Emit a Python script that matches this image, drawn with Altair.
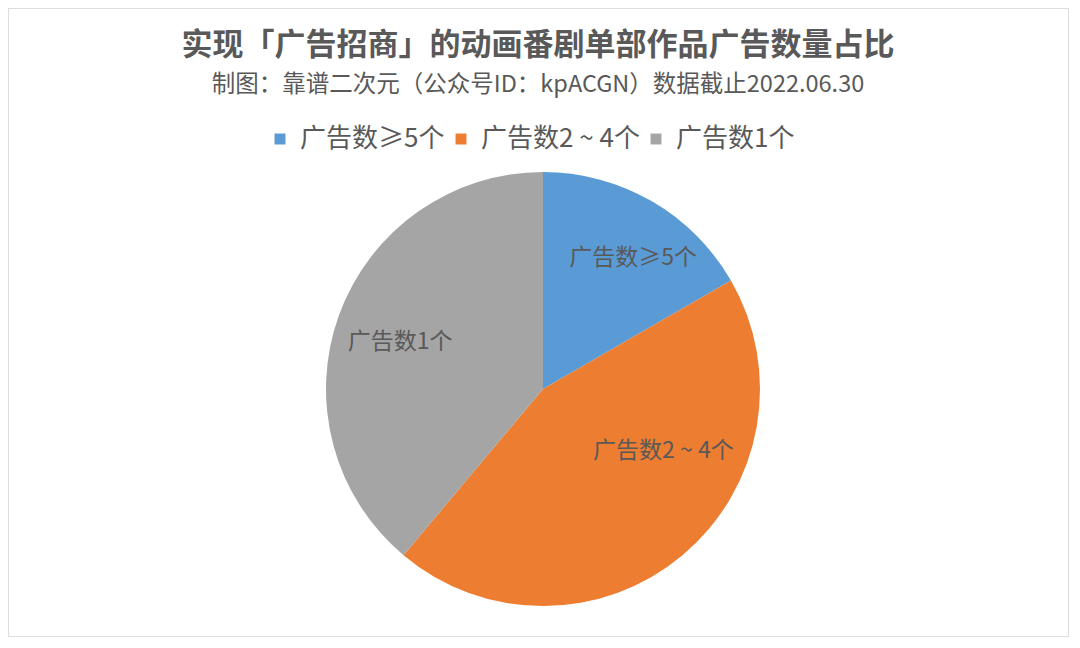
import altair as alt
import pandas as pd

legend_labels = ["广告数≥5个", "广告数2 ~ 4个", "广告数1个"]
counts = [3, 8, 7]
order_idx = [0, 1, 2]
colors = ["#5B9BD5", "#ED7D31", "#A5A5A5"]

title_text = "实现「广告招商」的动画番剧单部作品广告数量占比"
subtitle_text = "制图：靠谱二次元（公众号ID：kpACGN）数据截止2022.06.30"

FONT = "Noto Sans CJK SC"
TXT = "#595959"
CX, CY, R = 535, 381, 217

df = pd.DataFrame({"cat": legend_labels, "n": counts, "idx": order_idx})

color_enc = alt.Color(
    "cat:N",
    scale=alt.Scale(domain=legend_labels, range=colors),
    legend=alt.Legend(
        title=None,
        orient="none",
        legendX=259,
        legendY=118,
        direction="horizontal",
        symbolType="square",
        symbolSize=120,
        symbolStrokeWidth=0,
        labelFont=FONT,
        labelFontSize=26,
        labelColor=TXT,
        labelOffset=7,
        columnPadding=3,
        labelLimit=400,
    ),
)

base = alt.Chart(df)

pie = base.mark_arc(outerRadius=R, stroke=None).encode(
    theta=alt.Theta("n:Q", stack=True),
    order=alt.Order("idx:Q"),
    color=color_enc,
    x=alt.value(CX),
    y=alt.value(CY),
)

label_params = [
    (legend_labels[0], 160, 10, 8),
    (legend_labels[1], 122, 42, -31),
    (legend_labels[2], 151, -1, 5),
]

label_layers = []
for cat, rad, dx, dy in label_params:
    label_layers.append(
        base.mark_text(
            radius=rad, dx=dx, dy=dy, font=FONT, fontSize=23, color=TXT,
            align="center", baseline="middle",
        ).encode(
            theta=alt.Theta("n:Q", stack=True),
            order=alt.Order("idx:Q"),
            text=alt.Text("cat:N"),
            x=alt.value(CX),
            y=alt.value(CY),
            opacity=alt.condition(alt.datum.cat == cat, alt.value(1), alt.value(0)),
        )
    )

title_df = pd.DataFrame({"t": [title_text]})
sub_df = pd.DataFrame({"t": [subtitle_text]})

title = alt.Chart(title_df).mark_text(
    font=FONT, fontSize=31, fontWeight="bold", color=TXT, align="center", baseline="middle"
).encode(text="t:N", x=alt.value(530), y=alt.value(38))

subtitle = alt.Chart(sub_df).mark_text(
    font=FONT, fontSize=23.5, color=TXT, align="center", baseline="middle"
).encode(text="t:N", x=alt.value(530), y=alt.value(77))

chart = alt.layer(pie, *label_layers, title, subtitle).properties(
    width=1061,
    height=629,
    padding=0,
    autosize=alt.AutoSizeParams(type="none"),
    background="white",
).configure_view(stroke="#DDDDDD", strokeWidth=2)

chart.save("out.html", embed_options={"renderer": "svg", "actions": False})
